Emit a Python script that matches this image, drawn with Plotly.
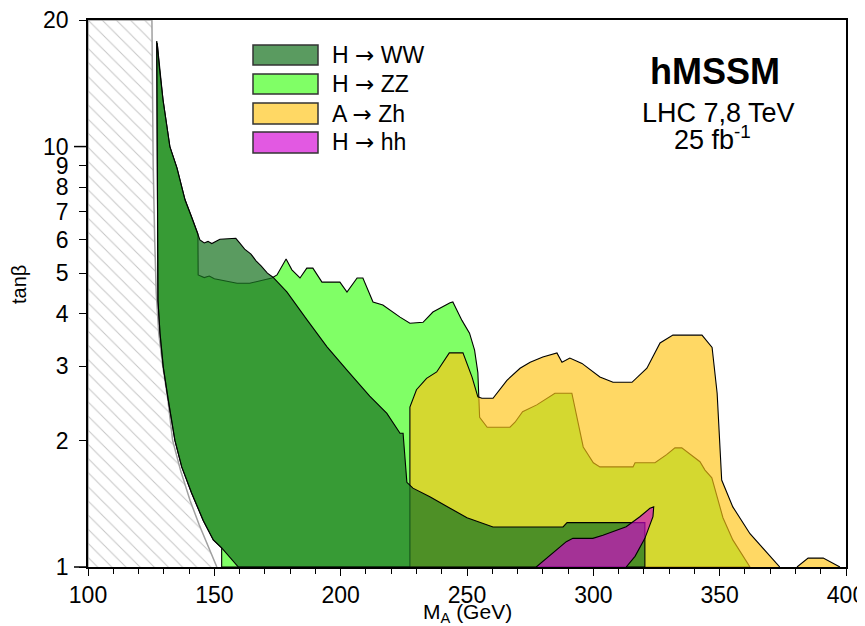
import math
import plotly.graph_objects as go

# ---- boundaries (M_A in GeV, tan beta) ----
# hatched, theoretically inaccessible area
hatch_x = [100, 100, 125.3, 125.5, 125.8, 126.4, 127.0, 128.0, 129.6, 131.6, 133.5, 136.6, 140.4, 144.0, 147.5, 151.0]
hatch_y = [1.0, 20.0, 20.0, 14.0, 9.0, 6.0, 4.5, 3.6, 3.0, 2.5, 2.0, 1.7, 1.44, 1.26, 1.12, 1.0]

# left edge shared by H->WW and H->ZZ (from the spike downwards)
edge_left_x = [127.2, 127.3, 127.5, 127.7, 128.5, 129.8, 131.8, 134.4, 137.1, 141.0, 145.6, 149.6, 152.9]
edge_left_y = [17.8, 12.0, 7.0, 4.3, 3.6, 2.99, 2.49, 2.0, 1.73, 1.50, 1.29, 1.16, 1.11]

# steep upper edge shared by both, spike -> 143.5 GeV
edge_top_x = [127.4, 128.2, 129.7, 132.4, 135.2, 138.4, 141.0, 143.5]
edge_top_y = [17.6, 15.5, 12.9, 10.0, 8.9, 7.47, 6.8, 6.2]

# H -> ZZ upper edge, left to right
zz_top_x = [143.6, 146.0, 148.0, 150.0, 152.2, 155.0, 159.0, 164.0, 165.3, 168.0, 172.8, 174.8, 178.4,
            180.7, 183.9, 186.6, 189.0, 192.6, 199.7, 202.5, 206.5, 208.8, 212.8, 216.7, 223.5, 227.4,
            232.6, 236.5, 243.3, 244.4, 248.0, 251.0, 253.0, 254.3, 255.0, 258.0, 267.0, 269.0, 272.0,
            277.6, 281.6, 284.8, 291.5, 296.0, 300.0, 302.6, 315.7, 316.5, 324.4, 329.0, 332.3, 335.0,
            342.2, 344.2, 346.9, 351.3, 355.2, 362.0]
zz_top_y = [4.95, 4.88, 4.92, 4.85, 4.82, 4.78, 4.73, 4.73, 4.76, 4.80, 4.87, 4.95, 5.40,
            5.09, 4.87, 5.14, 5.14, 4.76, 4.76, 4.51, 4.87, 4.87, 4.27, 4.20, 3.93, 3.80,
            3.82, 4.04, 4.25, 4.27, 3.86, 3.60, 3.28, 2.90, 2.27, 2.15, 2.15, 2.21, 2.34,
            2.43, 2.52, 2.59, 2.59, 1.93, 1.77, 1.73, 1.73, 1.77, 1.77, 1.85, 1.92, 1.92,
            1.78, 1.70, 1.63, 1.31, 1.16, 1.0]

# H -> WW upper edge, left to right
ww_top_x = [144.3, 146.0, 147.5, 149.0, 150.5, 152.2, 158.5, 160.0, 162.0, 164.5, 166.5, 168.5, 171.0,
            173.2, 178.7, 186.7, 194.6, 202.5, 211.5, 218.3, 223.5, 224.7, 226.2, 228.6, 235.3, 243.3,
            250.0, 255.1, 260.3, 288.0, 289.6, 320.4, 320.4]
ww_top_y = [6.0, 5.9, 5.95, 5.88, 5.95, 6.02, 6.05, 5.9, 5.7, 5.55, 5.35, 5.2, 5.0,
            4.89, 4.51, 3.87, 3.34, 2.94, 2.55, 2.32, 2.08, 2.08, 1.59, 1.54, 1.47, 1.38,
            1.31, 1.28, 1.245, 1.245, 1.275, 1.275, 1.0]

# A -> Zh region (main lobe and the small bump near 390 GeV)
zh_x = [227.4, 227.4, 230.0, 234.0, 238.0, 243.0, 248.4, 252.0, 254.3, 255.9, 260.3, 265.8, 271.0,
        275.0, 280.0, 285.6, 287.6, 290.7, 295.5, 302.6, 307.8, 315.3, 321.2, 326.4, 331.5, 343.0,
        347.0, 349.0, 350.8, 355.2, 362.0, 368.7, 373.8]
zh_y = [1.0, 2.40, 2.64, 2.81, 2.91, 3.23, 3.23, 2.83, 2.54, 2.52, 2.52, 2.78, 2.97,
        3.07, 3.16, 3.23, 3.07, 3.14, 3.05, 2.83, 2.75, 2.75, 2.97, 3.41, 3.56, 3.56,
        3.33, 2.59, 1.61, 1.39, 1.20, 1.08, 1.0]
zh_bump_x = [380.6, 385.0, 391.0, 397.6]
zh_bump_y = [1.0, 1.05, 1.05, 1.0]

# H -> hh region
hh_x = [277.4, 281.4, 285.3, 289.3, 291.9, 299.8, 303.8, 308.6, 313.0, 318.4, 322.4, 323.9,
        323.6, 320.4, 316.5, 313.0]
hh_y = [1.0, 1.047, 1.098, 1.149, 1.17, 1.17, 1.19, 1.22, 1.247, 1.317, 1.379, 1.39,
        1.317, 1.17, 1.06, 1.0]

ARROW = '<span style="font-family:DejaVu Sans">\u2192</span>'
channels = ["H " + ARROW + " WW", "H " + ARROW + " ZZ", "A " + ARROW + " Zh", "H " + ARROW + " hh"]
colors = {
    "ww": "rgba(27,117,34,0.72)",
    "zz": "rgb(128,255,102)",
    "zh": "rgba(255,196,20,0.66)",
    "hh": "rgba(210,0,210,0.65)",
}

# ---- polygons built from the edges ----
zz_px = edge_left_x + [152.9] + zz_top_x[::-1] + edge_top_x[::-1]
zz_py = edge_left_y + [1.0] + zz_top_y[::-1] + edge_top_y[::-1]

ww_px = edge_left_x + [159.5] + ww_top_x[::-1] + edge_top_x[::-1]
ww_py = edge_left_y + [1.0] + ww_top_y[::-1] + edge_top_y[::-1]

zh_px = zh_x + [None] + zh_bump_x
zh_py = zh_y + [None] + zh_bump_y

fig = go.Figure()

fig.add_trace(go.Scatter(x=hatch_x, y=hatch_y, fill="toself", mode="lines",
                         line=dict(color="#a0a0a0", width=1.5), fillcolor="white",
                         fillpattern=dict(shape="\\", size=10, solidity=0.1,
                                          fgcolor="#8a8a8a", bgcolor="white"),
                         showlegend=False, hoverinfo="skip"))

for px_, py_, c in [(zz_px, zz_py, "zz"), (zh_px, zh_py, "zh"), (ww_px, ww_py, "ww"), (hh_x, hh_y, "hh")]:
    fig.add_trace(go.Scatter(x=px_, y=py_, fill="toself", mode="lines",
                             line=dict(color="black", width=1.1), fillcolor=colors[c],
                             showlegend=False))

# ---- frame geometry (screen pixels of the 865x626 picture) ----
# the page body has an 8px margin, so the figure itself starts at (8, 8)
OFF = 8
FIG_W, FIG_H = 865 - OFF, 626 - OFF
L, R, T, B = 88, 846, 20, 567
W, H = R - L, B - T


def xp(px):
    return (px - L) / W


def yp(py):
    return (B - py) / H


font = "Liberation Sans, Arial, Helvetica, sans-serif"
shapes = []
annotations = []

# hand-made legend
legend_rows = [(45, 65, "ww"), (74, 94, "zz"), (103, 124, "zh"), (132, 153, "hh")]
for (top, bot, key), label in zip(legend_rows, channels):
    shapes.append(dict(type="rect", xref="paper", yref="paper",
                       x0=xp(253), x1=xp(318), y0=yp(bot), y1=yp(top),
                       fillcolor=colors[key], line=dict(color="#333333", width=1.5)))
    annotations.append(dict(xref="paper", yref="paper", x=xp(330), y=yp((top + bot) / 2),
                            text=label, showarrow=False, xanchor="left", yanchor="middle",
                            font=dict(family=font, size=23, color="black")))

# long ticks at 1 and 10
for v in [1, 10]:
    yy = math.log10(v) / math.log10(20)
    shapes.append(dict(type="line", xref="paper", yref="paper", x0=xp(74), x1=0, y0=yy, y1=yy,
                       line=dict(color="black", width=1.5)))

annotations += [
    dict(xref="paper", yref="paper", x=xp(715), y=yp(72), text="<b>hMSSM</b>", showarrow=False,
         xanchor="center", yanchor="middle", font=dict(family=font, size=36, color="black")),
    dict(xref="paper", yref="paper", x=xp(718), y=yp(113), text="LHC 7,8 TeV", showarrow=False,
         xanchor="center", yanchor="middle", font=dict(family=font, size=27, color="black")),
    dict(xref="paper", yref="paper", x=xp(712), y=yp(138), text="25 fb<sup>-1</sup>", showarrow=False,
         xanchor="center", yanchor="middle", font=dict(family=font, size=27, color="black")),
    dict(xref="paper", yref="paper", x=xp(467), y=yp(613), text="M<sub>A</sub> (GeV)", showarrow=False,
         xanchor="center", yanchor="middle", font=dict(family=font, size=21, color="black")),
    dict(xref="paper", yref="paper", x=xp(19), y=yp(285), text="tan\u03b2", showarrow=False, textangle=-90,
         xanchor="center", yanchor="middle", font=dict(family=font, size=20, color="black")),
]

y_ticks = [1, 2, 3, 4, 5, 6, 7, 8, 9, 10, 20]

fig.update_layout(
    width=FIG_W, height=FIG_H,
    margin=dict(l=L - OFF, r=(OFF + FIG_W) - R, t=T - OFF, b=(OFF + FIG_H) - B, autoexpand=False),
    paper_bgcolor="white", plot_bgcolor="white",
    font=dict(family=font, size=22, color="black"),
    shapes=shapes, annotations=annotations,
    xaxis=dict(range=[100, 400], tickvals=list(range(100, 401, 50)), ticks="outside", ticklen=7,
               tickwidth=1.2, tickcolor="black", showline=True, linecolor="black", linewidth=1.5,
               mirror=True, showgrid=False, zeroline=False, tickfont=dict(size=23), automargin=False,
               ticklabeloverflow="allow",
               minor=dict(dtick=10, ticks="outside", ticklen=5, tickcolor="black", showgrid=False)),
    yaxis=dict(type="log", range=[0, math.log10(20)], tickvals=y_ticks,
               ticktext=[str(v) for v in y_ticks], ticks="outside", ticklen=7, tickwidth=1.2,
               tickcolor="black", showline=True, linecolor="black", linewidth=1.5, mirror=True,
               showgrid=False, zeroline=False, tickfont=dict(size=23), ticklabelstandoff=6,
               automargin=False, ticklabeloverflow="allow"),
)

fig.write_html("out.html")
